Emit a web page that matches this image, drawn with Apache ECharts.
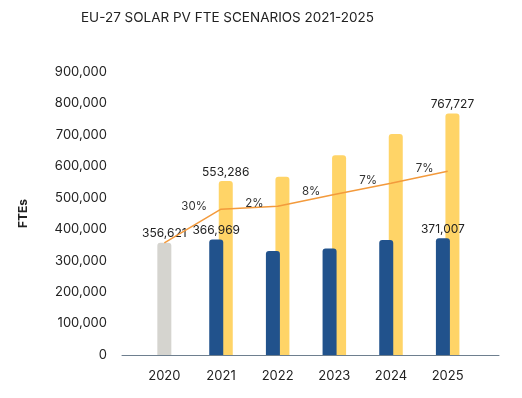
<!DOCTYPE html>
<html>
<head>
<meta charset="utf-8">
<script src="https://cdn.jsdelivr.net/npm/echarts@6/dist/echarts.min.js"></script>
<style>
  html, body { margin: 0; padding: 0; background: #fff; }
  #main { width: 522px; height: 398px; }
</style>
</head>
<body>
<div id="main"></div>
<script>
var years = ['2020', '2021', '2022', '2023', '2024', '2025'];
// 2020 actual
var actual = [356621, '-', '-', '-', '-', '-'];
// low scenario (blue)
var lowScenario = ['-', 366969, 331000, 339000, 366000, 371007];
// high scenario (yellow)
var highScenario = ['-', 553286, 567000, 635000, 703000, 767727];
// growth line
var growth = [356621, 463600, 472900, 510700, 546500, 584700];
var growthLabels = ['', '30%', '2%', '8%', '7%', '7%'];
var yTicks = [0, 900000, 100000];

var FONT = 'Inter, "DejaVu Sans", sans-serif';
var last = years.length - 1;

function fmt(v) {
  return Number(v).toLocaleString('en-US');
}

// only 2021 and 2025 have value labels
var lowData = lowScenario.map(function (v, i) {
  return { value: v, label: { show: i === 1 || i === last } };
});
var highData = highScenario.map(function (v, i) {
  return { value: v, label: { show: i === 1 || i === last } };
});

var barLabel = {
  position: 'top',
  distance: 3,
  color: '#222',
  fontSize: 12,
  fontFamily: FONT,
  formatter: function (p) { return fmt(p.value); }
};

var chart = echarts.init(document.getElementById('main'));
chart.setOption({
  animation: false,
  title: {
    text: 'EU-27 SOLAR PV FTE SCENARIOS 2021-2025',
    left: 76,
    top: 6,
    textStyle: { fontSize: 13.5, fontWeight: 'normal', color: '#222', fontFamily: FONT }
  },
  grid: [
    { left: 136, right: 46, top: 72, bottom: 43 },
    { left: 122, right: 23, top: 72, bottom: 43 }
  ],
  xAxis: [
    {
      type: 'category', data: years, gridIndex: 0,
      axisLine: { show: false }, axisTick: { show: false },
      axisLabel: { color: '#222', fontSize: 13, margin: 15, fontFamily: FONT }
    },
    { type: 'category', data: years, gridIndex: 0, show: false },
    {
      type: 'category', data: [''], gridIndex: 1,
      axisLine: { lineStyle: { color: '#6e7f8f', width: 1 } },
      axisTick: { show: false }, axisLabel: { show: false }
    }
  ],
  yAxis: [
    {
      type: 'value', gridIndex: 0, min: yTicks[0], max: yTicks[1], interval: yTicks[2],
      name: 'FTEs', nameLocation: 'middle', nameGap: 107, nameRotate: 90,
      nameTextStyle: { fontWeight: 'bold', fontSize: 12, color: '#222', fontFamily: FONT },
      splitLine: { show: false }, axisLine: { show: false }, axisTick: { show: false },
      axisLabel: { color: '#222', fontSize: 13, margin: 29, fontFamily: FONT, formatter: fmt }
    },
    { type: 'value', gridIndex: 1, min: yTicks[0], max: yTicks[1], show: false }
  ],
  series: [
    {
      type: 'bar', xAxisIndex: 1, yAxisIndex: 0, data: actual, barWidth: 14,
      itemStyle: { color: '#d5d4cf', borderRadius: [3, 3, 0, 0] },
      label: Object.assign({ show: true }, barLabel), z: 2
    },
    {
      type: 'bar', data: lowData, barWidth: 14, barGap: '-32%',
      itemStyle: { color: '#21528c', borderRadius: [3, 3, 0, 0] },
      label: barLabel, z: 3
    },
    {
      type: 'bar', data: highData, barWidth: 14,
      itemStyle: { color: '#ffd467', borderRadius: [3, 3, 0, 0] },
      label: barLabel, z: 2
    },
    {
      type: 'line', data: growth, symbol: 'circle', symbolSize: 0, showSymbol: true, z: 4,
      itemStyle: { color: '#f39a3c' },
      lineStyle: { color: '#f39a3c', width: 1.5 },
      label: {
        show: true, position: 'left', distance: 14, offset: [0, -3],
        color: '#333', fontSize: 11.5, fontFamily: FONT,
        formatter: function (p) { return growthLabels[p.dataIndex]; }
      }
    }
  ]
});
</script>
</body>
</html>
